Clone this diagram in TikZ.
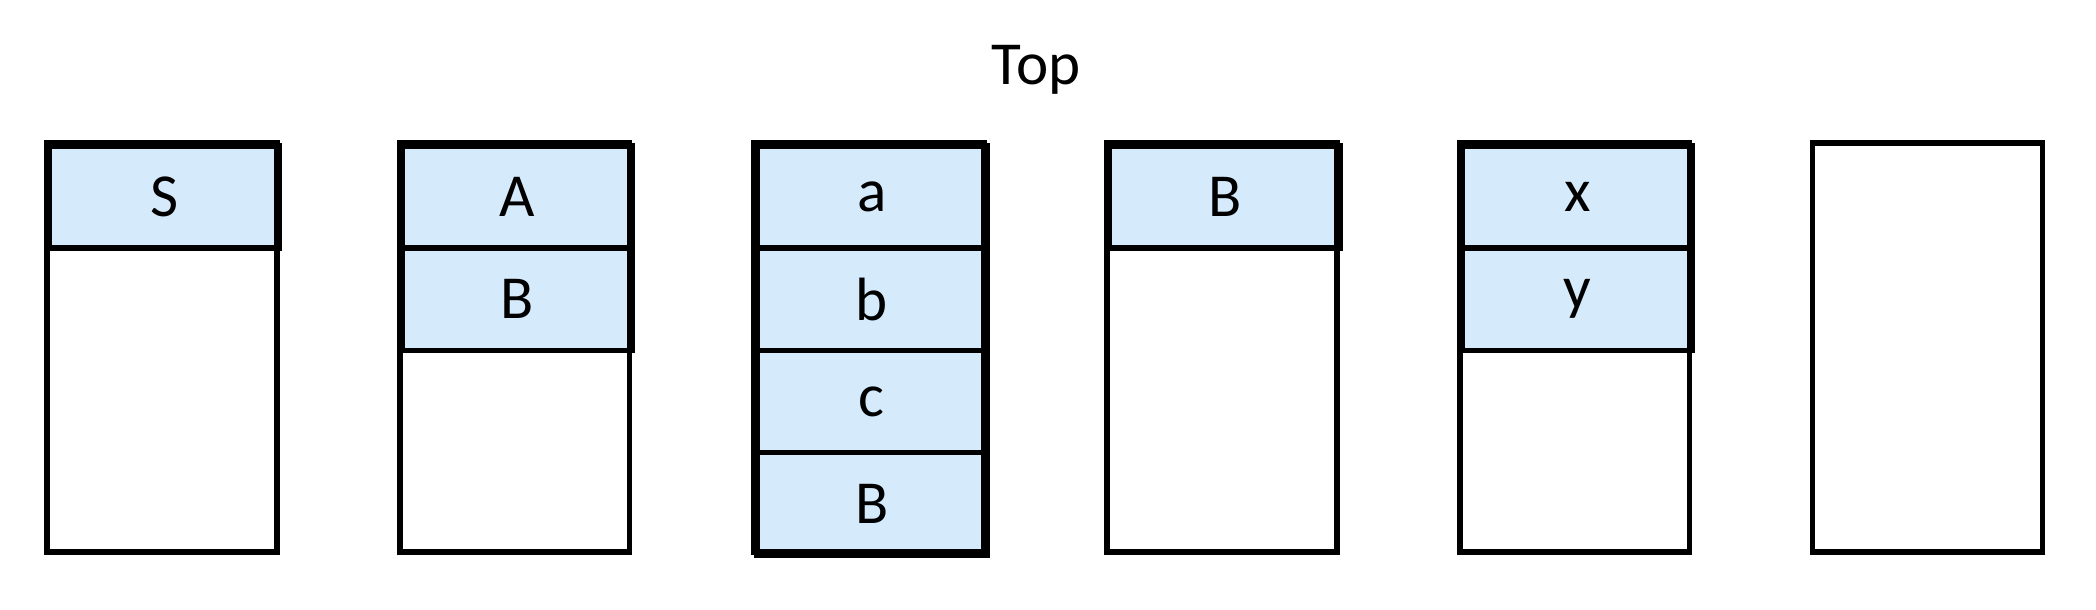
\documentclass[tikz,border=0pt]{standalone}
\usepackage{fontspec}
\setmainfont{Carlito}
\definecolor{cellblue}{HTML}{D5EAFB}
\begin{document}
\begin{tikzpicture}[x=0.01cm,y=-0.01cm,
  frame/.style={draw=black,line width=1.2pt},
  cell/.style={draw=black,line width=1.2pt,fill=cellblue,minimum width=1.72cm,minimum height=0.765cm,inner sep=0pt,font=\fontsize{13}{15}\selectfont,anchor=north west}]
\useasboundingbox (0,0) rectangle (1568,456);
\node[font=\fontsize{13}{15}\selectfont] (top) at (775,52) {Top};
% stack 1
\node[cell] (s1a) at (35,107) {S};
\draw[frame] (35,107) rectangle (207,413);
% stack 2
\node[cell] (s2a) at (299,107) {A};
\node[cell] (s2b) at (299,183.5) {B};
\draw[frame] (299,107) rectangle (471,413);
% stack 3
\node[cell] (s3a) at (564,107) {a};
\node[cell] (s3b) at (564,183.5) {b};
\node[cell] (s3c) at (564,260) {c};
\node[cell] (s3d) at (564,336.5) {B};
\draw[frame] (564,107) rectangle (736,413);
% stack 4
\node[cell] (s4a) at (828,107) {B};
\draw[frame] (828,107) rectangle (1000,413);
% stack 5
\node[cell] (s5a) at (1092,107) {x};
\node[cell] (s5b) at (1092,183.5) {y};
\draw[frame] (1092,107) rectangle (1264,413);
% stack 6
\draw[frame] (1356,107) rectangle (1528,413);
\end{tikzpicture}
\end{document}
